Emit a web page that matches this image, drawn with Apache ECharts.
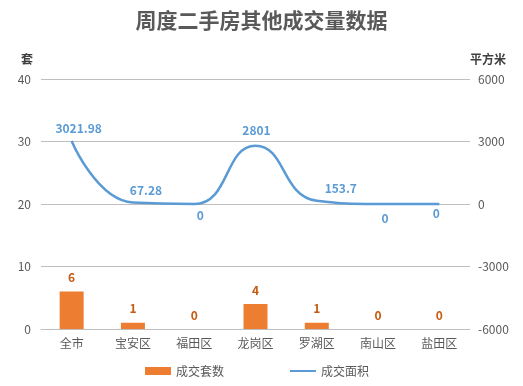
<!DOCTYPE html>
<html>
<head>
<meta charset="utf-8">
<script src="https://cdn.jsdelivr.net/npm/echarts@6/dist/echarts.min.js"></script>
<style>
  html, body { margin: 0; padding: 0; background: #fff; }
  #main { width: 523px; height: 386px; }
</style>
</head>
<body>
<div id="main"></div>
<script>
const categories = ['全市', '宝安区', '福田区', '龙岗区', '罗湖区', '南山区', '盐田区'];
const dealCount = [6, 1, 0, 4, 1, 0, 0];
const dealArea = [3021.98, 67.28, 0, 2801, 153.7, 0, 0];
const leftTicks = [0, 40, 10];
const rightTicks = [-6000, 6000, 3000];

// label nudges for the area line (style only)
const areaLabelOffset = [[7, 2], [13, 3], [6, -4], [1, 0], [24, 3], [7, -1], [-3, -6]];

const font = '"Microsoft YaHei", "Noto Sans CJK SC", sans-serif';

const chart = echarts.init(document.getElementById('main'));

chart.setOption({
    textStyle: { fontFamily: font },
    title: {
        text: '周度二手房其他成交量数据',
        left: 'center',
        top: 5,
        textStyle: { fontSize: 21, fontWeight: 'bold', color: '#595959', fontFamily: font }
    },
    legend: {
        bottom: 4,
        left: 140,
        itemGap: 66,
        itemWidth: 26,
        itemHeight: 8,
        textStyle: { color: '#595959', fontSize: 12 },
        data: [
            { name: '成交套数', icon: 'rect' },
            { name: '成交面积', icon: 'path://M0,3 L26,3 L26,5 L0,5 Z', itemStyle: { color: '#5b9bd5', opacity: 1 } }
        ]
    },
    grid: { left: 41, right: 53, top: 79, bottom: 57 },
    xAxis: {
        type: 'category',
        data: categories,
        axisTick: { show: false },
        axisLine: { lineStyle: { color: '#bfbfbf' } },
        axisLabel: { color: '#595959', fontSize: 12, margin: 8 }
    },
    yAxis: [
        {
            type: 'value',
            name: '套',
            nameGap: 14,
            nameTextStyle: { color: '#404040', fontWeight: 'bold', fontSize: 12, align: 'right', padding: [0, 8, 0, 0] },
            min: leftTicks[0], max: leftTicks[1], interval: leftTicks[2],
            axisLabel: { color: '#595959', fontSize: 12, margin: 10 },
            axisLine: { show: false },
            splitLine: { lineStyle: { color: '#bfbfbf' } }
        },
        {
            type: 'value',
            name: '平方米',
            nameGap: 14,
            nameTextStyle: { color: '#404040', fontWeight: 'bold', fontSize: 12, align: 'left' },
            min: rightTicks[0], max: rightTicks[1], interval: rightTicks[2],
            axisLabel: { color: '#595959', fontSize: 12, margin: 8, formatter: v => String(v) },
            axisLine: { show: false },
            splitLine: { show: false }
        }
    ],
    series: [
        {
            name: '成交套数',
            type: 'bar',
            yAxisIndex: 0,
            barWidth: 24,
            itemStyle: { color: '#ed7d31' },
            label: {
                show: true,
                position: 'top',
                distance: 8,
                color: '#c55a11',
                fontWeight: 'bold',
                fontSize: 12
            },
            data: dealCount
        },
        {
            name: '成交面积',
            type: 'line',
            yAxisIndex: 1,
            smooth: 0.5,
            symbol: 'circle',
            symbolSize: 0,
            showSymbol: true,
            lineStyle: { color: '#5b9bd5', width: 2.5 },
            itemStyle: { color: '#5b9bd5' },
            label: {
                show: true,
                color: '#5b9bd5',
                fontWeight: 'bold',
                fontSize: 12
            },
            data: dealArea.map((v, i) => ({
                value: v,
                label: {
                    position: v === 0 ? 'bottom' : 'top',
                    distance: 9,
                    offset: areaLabelOffset[i]
                }
            }))
        }
    ]
});
</script>
</body>
</html>
